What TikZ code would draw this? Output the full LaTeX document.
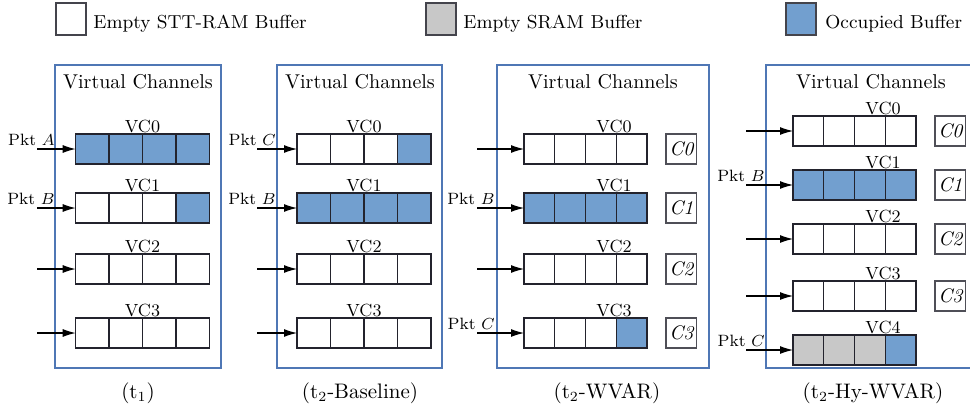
\documentclass[tikz,border=0pt]{standalone}
\usetikzlibrary{arrows.meta}

\definecolor{occ}{RGB}{114,159,207}
\definecolor{sram}{RGB}{200,200,200}
\definecolor{frameblue}{RGB}{79,119,181}
\definecolor{edge}{RGB}{35,35,45}

% one row of four buffer cells: name, cell style, left x, cell width, top y, fills
\newcommand\vcrow[6]{%
  \foreach \f [count=\i from 0] in {#6} {%
    \node[#2, fill=\f] (#1-\i) at ({#3+\i*#4},#5) {};%
  }%
}

\begin{document}
\begin{tikzpicture}[x=0.5pt,y=-0.5pt,
  cellA/.style={draw=edge,line width=0.7pt,inner sep=0pt,outer sep=0pt,
    anchor=north west,minimum width=16.7pt,minimum height=15pt},
  cellB/.style={cellA,minimum width=15.375pt},
  cbox/.style={draw=edge!80,line width=0.6pt,inner sep=0pt,outer sep=0pt,
    anchor=north west,minimum width=15.3pt,minimum height=15pt,
    font=\fontsize{9.8}{11}\selectfont\itshape},
  legbox/.style={draw=edge!85,line width=0.6pt,inner sep=0pt,outer sep=0pt,
    anchor=north west,minimum width=15pt,minimum height=16pt},
  legtext/.style={anchor=base west,inner sep=0pt,font=\fontsize{9.4}{11}\selectfont},
  panel/.style={draw=frameblue,line width=0.55pt},
  title/.style={anchor=base,inner sep=0pt,font=\fontsize{10}{12}\selectfont},
  vclab/.style={anchor=base,inner sep=0pt,font=\fontsize{8.8}{10}\selectfont},
  pkt/.style={anchor=base east,inner sep=0pt,font=\fontsize{8.2}{10}\selectfont},
  caption/.style={anchor=base,inner sep=0pt,font=\fontsize{10.5}{12}\selectfont},
  feed/.style={-{Latex[length=6.5pt,width=4pt]},line width=0.55pt,black}]

\useasboundingbox (0,0) rectangle (970,413);

% legend
\node[legbox,fill=white] (lg1) at (56,3) {};
\node[legtext] (lg1t) at (93,28) {Empty STT-RAM Buffer};
\node[legbox,fill=sram] (lg2) at (426,3) {};
\node[legtext] (lg2t) at (463,28) {Empty SRAM Buffer};
\node[legbox,fill=occ] (lg3) at (786,3) {};
\node[legtext] (lg3t) at (825,28) {Occupied Buffer};

% panel frames
\draw[panel] (55,65) rectangle (221,368);
\draw[panel] (277,65) rectangle (442,368);
\draw[panel] (497,65) rectangle (709,368);
\draw[panel] (972,65) -- (766,65) -- (766,368) -- (972,368);

\node[title] (t1) at (138,88) {Virtual Channels};
\node[title] (t2) at (360,88) {Virtual Channels};
\node[title] (t3) at (603,88) {Virtual Channels};
\node[title] (t4) at (871,88) {Virtual Channels};

% ---- panel 1: t1
\vcrow{a0}{cellA}{75.7}{33.4}{134}{occ,occ,occ,occ}
\vcrow{a1}{cellA}{75.7}{33.4}{193}{white,white,white,occ}
\vcrow{a2}{cellA}{75.7}{33.4}{254}{white,white,white,white}
\vcrow{a3}{cellA}{75.7}{33.4}{318}{white,white,white,white}
\node[vclab] (a0-lab) at (142.5,132) {VC0};
\node[vclab] (a1-lab) at (142.5,191) {VC1};
\node[vclab] (a2-lab) at (142.5,252) {VC2};
\node[vclab] (a3-lab) at (142.5,316) {VC3};
\coordinate (a0-in) at (37,149);
\coordinate (a1-in) at (37,208);
\coordinate (a2-in) at (37,269);
\coordinate (a3-in) at (37,333);
\foreach \r in {0,1,2,3} \draw[feed] (a\r-in) -- (a\r-0.west);
\node[pkt] (a0-pkt) at (55,145) {Pkt $A$};
\node[pkt] (a1-pkt) at (55,204) {Pkt $B$};
\node[caption] (cap1) at (138,398) {(t$_1$)};

% ---- panel 2: t2 baseline
\vcrow{b0}{cellA}{297}{33.5}{134}{white,white,white,occ}
\vcrow{b1}{cellA}{297}{33.5}{193}{occ,occ,occ,occ}
\vcrow{b2}{cellA}{297}{33.5}{254}{white,white,white,white}
\vcrow{b3}{cellA}{297}{33.5}{318}{white,white,white,white}
\node[vclab] (b0-lab) at (364,132) {VC0};
\node[vclab] (b1-lab) at (364,191) {VC1};
\node[vclab] (b2-lab) at (364,252) {VC2};
\node[vclab] (b3-lab) at (364,316) {VC3};
\coordinate (b0-in) at (257,149);
\coordinate (b1-in) at (257,208);
\coordinate (b2-in) at (257,269);
\coordinate (b3-in) at (257,333);
\foreach \r in {0,1,2,3} \draw[feed] (b\r-in) -- (b\r-0.west);
\node[pkt] (b0-pkt) at (276,145) {Pkt $C$};
\node[pkt] (b1-pkt) at (276,204) {Pkt $B$};
\node[caption] (cap2) at (360,398) {(t$_2$-Baseline)};

% ---- panel 3: t2 WVAR
\vcrow{c0}{cellB}{524}{30.75}{134}{white,white,white,white}
\vcrow{c1}{cellB}{524}{30.75}{193}{occ,occ,occ,occ}
\vcrow{c2}{cellB}{524}{30.75}{254}{white,white,white,white}
\vcrow{c3}{cellB}{524}{30.75}{318}{white,white,white,occ}
\node[vclab] (c0-lab) at (614,132) {VC0};
\node[vclab] (c1-lab) at (614,191) {VC1};
\node[vclab] (c2-lab) at (614,252) {VC2};
\node[vclab] (c3-lab) at (614,316) {VC3};
\node[cbox] (c0-c) at (666,134) {C0};
\node[cbox] (c1-c) at (666,193) {C1};
\node[cbox] (c2-c) at (666,254) {C2};
\node[cbox] (c3-c) at (666,318) {C3};
\coordinate (c0-in) at (477,149);
\coordinate (c1-in) at (477,208);
\coordinate (c2-in) at (477,269);
\coordinate (c3-in) at (477,333);
\foreach \r in {0,1,2,3} \draw[feed] (c\r-in) -- (c\r-0.west);
\node[pkt] (c1-pkt) at (495,204) {Pkt $B$};
\node[pkt] (c3-pkt) at (495,329) {Pkt $C$};
\node[caption] (cap3) at (607,398) {(t$_2$-WVAR)};

% ---- panel 4: t2 Hy-WVAR
\vcrow{d0}{cellB}{793}{30.75}{116}{white,white,white,white}
\vcrow{d1}{cellB}{793}{30.75}{170}{occ,occ,occ,occ}
\vcrow{d2}{cellB}{793}{30.75}{224}{white,white,white,white}
\vcrow{d3}{cellB}{793}{30.75}{281}{white,white,white,white}
\vcrow{d4}{cellB}{793}{30.75}{335}{sram,sram,sram,occ}
\node[vclab] (d0-lab) at (883,114) {VC0};
\node[vclab] (d1-lab) at (883,168) {VC1};
\node[vclab] (d2-lab) at (883,222) {VC2};
\node[vclab] (d3-lab) at (883,279) {VC3};
\node[vclab] (d4-lab) at (883,333) {VC4};
\node[cbox] (d0-c) at (935,116) {C0};
\node[cbox] (d1-c) at (935,170) {C1};
\node[cbox] (d2-c) at (935,224) {C2};
\node[cbox] (d3-c) at (935,281) {C3};
\coordinate (d0-in) at (746,131);
\coordinate (d1-in) at (746,185);
\coordinate (d2-in) at (746,239);
\coordinate (d3-in) at (746,296);
\coordinate (d4-in) at (746,350);
\foreach \r in {0,1,2,3,4} \draw[feed] (d\r-in) -- (d\r-0.west);
\node[pkt] (d1-pkt) at (765,181) {Pkt $B$};
\node[pkt] (d4-pkt) at (765,346) {Pkt $C$};
\node[caption] (cap4) at (873,398) {(t$_2$-Hy-WVAR)};

\end{tikzpicture}
\end{document}
